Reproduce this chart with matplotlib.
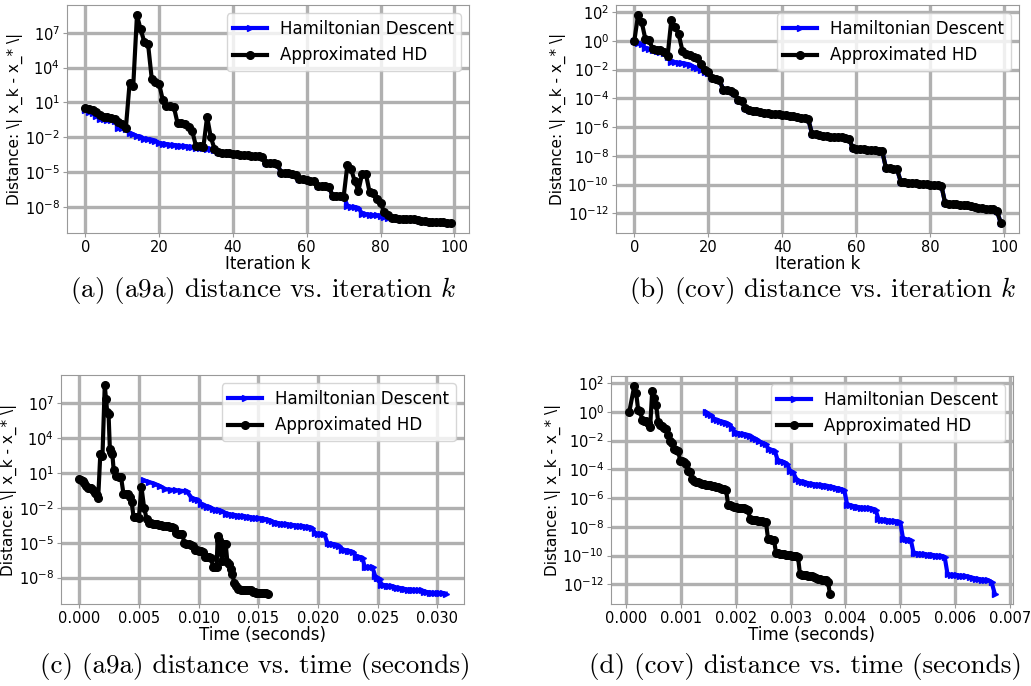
import matplotlib

matplotlib.use("Agg")
import matplotlib.pyplot as plt
import numpy as np

# 反復回数
iters = list(range(100))

# (a) a9a: log10(距離)
hd_a9a = [
    0.34, 0.2, 0.05, -0.15, -0.4, -0.46, -0.5, -0.55, -0.6, -1.2,
    -1.25, -1.3, -1.65, -1.75, -1.9, -1.95, -2.15, -2.2, -2.22, -2.3,
    -2.5, -2.55, -2.6, -2.65, -2.68, -2.72, -2.75, -2.78, -2.82, -2.85,
    -2.9, -2.92, -2.95, -3.0, -3.05, -3.15, -3.3, -3.33, -3.36, -3.4,
    -3.43, -3.46, -3.5, -3.53, -3.56, -3.6, -3.63, -3.66, -3.72, -4.2,
    -4.23, -4.25, -4.28, -5.05, -5.1, -5.13, -5.17, -5.25, -5.6, -5.65,
    -5.7, -5.74, -5.8, -6.2, -6.23, -6.25, -6.28, -7.05, -7.08, -7.1,
    -7.12, -7.9, -8.0, -8.05, -8.1, -8.6, -8.65, -8.68, -8.72, -8.75,
    -8.8, -8.9, -8.93, -8.95, -9.0, -9.02, -9.03, -9.05, -9.06, -9.08,
    -9.1, -9.2, -9.25, -9.28, -9.3, -9.32, -9.34, -9.35, -9.36, -9.37,
]
ahd_a9a = [
    0.49, 0.42, 0.3, 0.15, -0.1, -0.3, -0.3, -0.32, -0.45, -0.7,
    -0.9, -1.2, 2.63, 2.45, 8.5, 7.3, 6.2, 6.05, 3.05, 2.75,
    2.6, 1.2, 0.7, 0.68, 0.6, -0.8, -0.8, -0.85, -1.1, -1.5,
    -2.8, -2.8, -2.85, -0.25, -2.0, -3.0, -3.3, -3.33, -3.36, -3.4,
    -3.43, -3.46, -3.5, -3.53, -3.56, -3.6, -3.63, -3.66, -3.72, -4.2,
    -4.23, -4.25, -4.28, -5.05, -5.1, -5.13, -5.17, -5.25, -5.6, -5.65,
    -5.7, -5.74, -5.8, -6.2, -6.23, -6.25, -6.28, -7.05, -7.08, -7.1,
    -7.12, -4.4, -4.75, -5.8, -6.6, -5.15, -5.15, -6.7, -6.85, -7.3,
    -7.7, -8.45, -8.7, -8.95, -9.0, -9.02, -9.03, -9.05, -9.06, -9.08,
    -9.1, -9.2, -9.25, -9.28, -9.3, -9.32, -9.34, -9.35, -9.36, -9.37,
]

# (b) cov: log10(距離)
hd_cov = [
    0.0, -0.15, -0.25, -0.5, -0.55, -0.65, -0.7, -0.75, -0.85, -1.1,
    -1.45, -1.5, -1.52, -1.55, -1.6, -1.65, -1.8, -1.9, -2.05, -2.2,
    -2.25, -2.6, -2.65, -2.7, -3.4, -3.45, -3.5, -3.6, -4.1, -4.2,
    -4.65, -4.8, -4.85, -4.9, -4.95, -5.0, -5.03, -5.06, -5.08, -5.1,
    -5.13, -5.15, -5.2, -5.25, -5.3, -5.35, -5.4, -5.45, -6.45, -6.5,
    -6.55, -6.6, -6.63, -6.66, -6.68, -6.7, -6.72, -6.75, -6.8, -7.45,
    -7.5, -7.52, -7.55, -7.57, -7.6, -7.62, -7.65, -7.7, -8.85, -8.88,
    -8.9, -8.95, -9.8, -9.85, -9.87, -9.9, -9.92, -9.94, -9.96, -9.98,
    -10.0, -10.02, -10.05, -10.1, -11.3, -11.33, -11.35, -11.37, -11.4, -11.42,
    -11.45, -11.5, -11.55, -11.6, -11.65, -11.67, -11.7, -11.72, -11.85, -12.65,
]
ahd_cov = [
    0.0, 1.77, 1.3, 0.1, 0.05, -0.6, -0.62, -0.65, -0.75, -1.05,
    1.45, 0.95, 0.45, -0.7, -0.9, -1.0, -1.15, -1.2, -1.6, -2.05,
    -2.2, -2.6, -2.65, -2.7, -3.4, -3.45, -3.5, -3.6, -4.1, -4.2,
    -4.65, -4.8, -4.85, -4.9, -4.95, -5.0, -5.03, -5.06, -5.08, -5.1,
    -5.13, -5.15, -5.2, -5.25, -5.3, -5.35, -5.4, -5.45, -6.45, -6.5,
    -6.55, -6.6, -6.63, -6.66, -6.68, -6.7, -6.72, -6.75, -6.8, -7.45,
    -7.5, -7.52, -7.55, -7.57, -7.6, -7.62, -7.65, -7.7, -8.85, -8.88,
    -8.9, -8.95, -9.8, -9.85, -9.87, -9.9, -9.92, -9.94, -9.96, -9.98,
    -10.0, -10.02, -10.05, -10.1, -11.3, -11.33, -11.35, -11.37, -11.4, -11.42,
    -11.45, -11.5, -11.55, -11.6, -11.65, -11.67, -11.7, -11.72, -11.85, -12.65,
]

# 経過時間 (ms)
t_hd_a9a = [
    5.43, 5.88, 6.32, 6.77, 7.22, 7.66, 8.11, 8.56, 9.0, 9.45,
    9.7, 9.95, 10.2, 10.45, 10.7, 10.95, 11.2, 11.45, 11.7, 11.95,
    12.3, 12.55, 12.81, 13.06, 13.32, 13.57, 13.82, 14.08, 14.33, 14.58,
    14.84, 15.09, 15.35, 15.6, 15.86, 16.12, 16.38, 16.64, 16.9, 17.16,
    17.42, 17.68, 17.94, 18.2, 18.46, 18.72, 18.98, 19.24, 19.5, 19.76,
    20.02, 20.28, 20.54, 20.8, 21.04, 21.28, 21.52, 21.76, 22.0, 22.24,
    22.48, 22.72, 22.96, 23.2, 23.38, 23.55, 23.73, 23.9, 24.12, 24.35,
    24.57, 24.8, 24.92, 25.05, 25.17, 25.3, 25.52, 25.75, 25.98, 26.2,
    26.42, 26.65, 26.88, 27.1, 27.32, 27.55, 27.78, 28.0, 28.22, 28.45,
    28.68, 28.9, 29.12, 29.35, 29.57, 29.8, 30.02, 30.25, 30.48, 30.7,
]
t_ahd_a9a = [
    0.0, 0.14, 0.29, 0.43, 0.58, 0.72, 0.86, 1.01, 1.15, 1.29,
    1.44, 1.58, 1.76, 1.94, 2.13, 2.24, 2.34, 2.45, 2.56, 2.66,
    2.77, 2.88, 3.09, 3.29, 3.5, 3.7, 3.87, 4.04, 4.21, 4.38,
    4.55, 4.77, 4.99, 5.21, 5.43, 5.65, 5.83, 6.0, 6.18, 6.35,
    6.53, 6.7, 6.88, 7.05, 7.23, 7.4, 7.58, 7.75, 7.93, 8.1,
    8.28, 8.45, 8.63, 8.8, 8.98, 9.15, 9.32, 9.49, 9.66, 9.83,
    10.0, 10.18, 10.35, 10.52, 10.69, 10.86, 11.03, 11.2, 11.3, 11.4,
    11.5, 11.6, 11.7, 11.84, 11.98, 12.13, 12.27, 12.41, 12.55, 12.69,
    12.83, 12.98, 13.12, 13.26, 13.4, 13.56, 13.72, 13.88, 14.04, 14.2,
    14.36, 14.52, 14.68, 14.84, 15.0, 15.16, 15.32, 15.48, 15.64, 15.8,
]
t_hd_cov = [
    1.45, 1.503, 1.557, 1.61, 1.663, 1.717, 1.77, 1.823, 1.877, 1.93,
    1.986, 2.042, 2.097, 2.153, 2.209, 2.265, 2.321, 2.377, 2.432, 2.488,
    2.544, 2.6, 2.656, 2.711, 2.767, 2.822, 2.878, 2.933, 2.989, 3.044,
    3.1, 3.152, 3.203, 3.255, 3.307, 3.358, 3.41, 3.462, 3.513, 3.565,
    3.617, 3.668, 3.72, 3.772, 3.823, 3.875, 3.927, 3.978, 4.03, 4.082,
    4.134, 4.185, 4.237, 4.289, 4.341, 4.393, 4.445, 4.496, 4.548, 4.6,
    4.65, 4.7, 4.75, 4.8, 4.85, 4.9, 4.95, 5.0, 5.05, 5.098,
    5.145, 5.193, 5.24, 5.292, 5.343, 5.395, 5.447, 5.498, 5.55, 5.602,
    5.653, 5.705, 5.757, 5.808, 5.86, 5.917, 5.975, 6.032, 6.089, 6.147,
    6.204, 6.261, 6.319, 6.376, 6.433, 6.491, 6.548, 6.605, 6.663, 6.72,
]
t_ahd_cov = [
    0.06, 0.15, 0.186, 0.223, 0.259, 0.296, 0.332, 0.368, 0.405, 0.441,
    0.478, 0.514, 0.55, 0.587, 0.623, 0.66, 0.696, 0.732, 0.769, 0.805,
    0.842, 0.878, 0.914, 0.951, 0.987, 1.024, 1.06, 1.096, 1.133, 1.169,
    1.206, 1.242, 1.278, 1.315, 1.351, 1.388, 1.424, 1.46, 1.497, 1.533,
    1.57, 1.606, 1.642, 1.679, 1.715, 1.752, 1.788, 1.824, 1.861, 1.897,
    1.934, 1.97, 2.006, 2.043, 2.079, 2.116, 2.152, 2.188, 2.225, 2.261,
    2.298, 2.334, 2.37, 2.407, 2.443, 2.48, 2.516, 2.552, 2.589, 2.625,
    2.662, 2.698, 2.734, 2.771, 2.807, 2.844, 2.88, 2.916, 2.953, 2.989,
    3.026, 3.062, 3.098, 3.135, 3.171, 3.208, 3.244, 3.28, 3.317, 3.353,
    3.39, 3.426, 3.462, 3.499, 3.535, 3.572, 3.608, 3.644, 3.681, 3.717,
]

captions = [
    "(a) (a9a) distance vs. iteration $k$",
    "(b) (cov) distance vs. iteration $k$",
    "(c) (a9a) distance vs. time (seconds)",
    "(d) (cov) distance vs. time (seconds)",
]

W, H = 1031, 686
plt.rcParams["font.family"] = "DejaVu Sans"
plt.rcParams["mathtext.fontset"] = "cm"

fig = plt.figure(figsize=(W / 100, H / 100), dpi=100)


def add_ax(l, r, t, b):
    """ピクセル座標で軸を作る"""
    return fig.add_axes([l / W, 1 - b / H, (r - l) / W, (b - t) / H])


def draw(ax, x_hd, y_hd, x_ahd, y_ahd, yticks, xlabel):
    ax.plot(x_hd, 10 ** np.array(y_hd), color="#0000ff", marker=">",
            markersize=4, lw=3, label="Hamiltonian Descent", zorder=3)
    ax.plot(x_ahd, 10 ** np.array(y_ahd), color="black", marker="o",
            markersize=5.5, lw=3, label="Approximated HD", zorder=4)
    ax.set_yscale("log")
    ax.set_yticks([10.0 ** e for e in yticks])
    ax.minorticks_off()
    ax.grid(True, color="#b0b0b0", lw=2.4)
    ax.set_axisbelow(True)
    for s in ax.spines.values():
        s.set_color("#999999")
    ax.tick_params(labelsize=10.5, color="#999999", length=3, pad=2)
    ax.set_xlabel(xlabel, fontsize=12, labelpad=0)
    ax.set_ylabel("Distance: \\| x_k - x_* \\|", fontsize=11, labelpad=1)
    ax.legend(loc="upper right", fontsize=12)


ax1 = add_ax(67, 469, 5, 233)
draw(ax1, iters, hd_a9a, iters, ahd_a9a, [-8, -5, -2, 1, 4, 7], "Iteration k")

ax2 = add_ax(616, 1019, 5, 233)
draw(ax2, iters, hd_cov, iters, ahd_cov, [-12, -10, -8, -6, -4, -2, 0, 2], "Iteration k")

ax3 = add_ax(61, 464, 375, 604)
draw(ax3, np.array(t_hd_a9a) / 1000, hd_a9a, np.array(t_ahd_a9a) / 1000, ahd_a9a,
     [-8, -5, -2, 1, 4, 7], "Time (seconds)")

ax4 = add_ax(611, 1013, 376, 604)
draw(ax4, np.array(t_hd_cov) / 1000, hd_cov, np.array(t_ahd_cov) / 1000, ahd_cov,
     [-12, -10, -8, -6, -4, -2, 0, 2], "Time (seconds)")

# キャプション
for (cx, cy), cap in zip([(263, 291), (823, 291), (255, 667), (805, 667)], captions):
    fig.text(cx / W, 1 - cy / H, cap, family="cmr10", fontsize=19.5,
             ha="center", va="center")

plt.savefig("out.png", dpi=100)
